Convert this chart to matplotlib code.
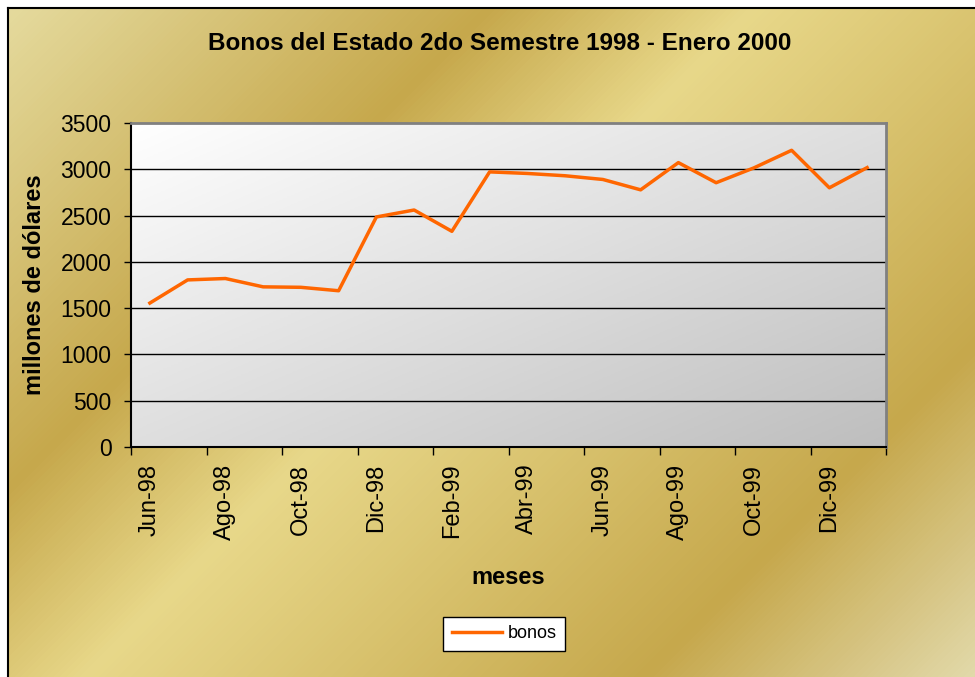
import numpy as np
import matplotlib
matplotlib.use("Agg")
import matplotlib.pyplot as plt
from matplotlib.colors import LinearSegmentedColormap
from matplotlib.lines import Line2D

plt.rcParams['font.family'] = ['Liberation Sans', 'DejaVu Sans']

# --- data ---
months = ["Jun-98", "Jul-98", "Ago-98", "Sep-98", "Oct-98", "Nov-98", "Dic-98",
          "Ene-99", "Feb-99", "Mar-99", "Abr-99", "May-99", "Jun-99", "Jul-99",
          "Ago-99", "Sep-99", "Oct-99", "Nov-99", "Dic-99", "Ene-00"]
bonos = [1555, 1805, 1820, 1730, 1725, 1688, 2485, 2560, 2330, 2972,
         2955, 2930, 2890, 2778, 3072, 2855, 3015, 3205, 2800, 3018]
y_ticks = [0, 500, 1000, 1500, 2000, 2500, 3000, 3500]

W, H = 975, 677
fig = plt.figure(figsize=(W / 100, H / 100), dpi=100, facecolor="white")

# gold background with diagonal bands
bg = fig.add_axes([8 / W, 0, 1 - 8 / W, 1 - 8 / H])
px, py = np.meshgrid(np.arange(8, W), np.arange(8, H))
u = (px + py) / 1652.0
gold = LinearSegmentedColormap.from_list("gold", [
    (0.0, "#E6DCA0"), (0.30, "#C6A84C"), (0.46, "#E8D88A"),
    (0.80, "#C6A84C"), (1.0, "#E2D9AA")])
bg.imshow(u, cmap=gold, vmin=0, vmax=1, aspect="auto", interpolation="bilinear")
bg.set_xticks([])
bg.set_yticks([])
for side in ["right", "bottom"]:
    bg.spines[side].set_visible(False)
for side in ["left", "top"]:
    bg.spines[side].set_color("black")
    bg.spines[side].set_linewidth(1.5)

# plot area
ax = fig.add_axes([131 / W, 1 - 447 / H, 755 / W, 324 / H])
x = np.arange(len(months))

gx, gy = np.meshgrid(np.linspace(0, 1, 200), np.linspace(0, 1, 200))
shade = (gx + gy) / 2
gray = LinearSegmentedColormap.from_list("plotgray", ["#FFFFFF", "#BEBEBE"])
ax.imshow(shade, cmap=gray, vmin=0, vmax=1, aspect="auto",
          extent=[-0.5, len(months) - 0.5, 0, 3500], origin="upper", zorder=0)
ax.set_xlim(-0.5, len(months) - 0.5)
ax.set_ylim(0, 3500)

for v in y_ticks[1:-1]:
    ax.axhline(v, color="black", lw=1, zorder=1)

ax.plot(x, bonos, color="#FF6600", lw=2.5, zorder=3, label="bonos")

ax.set_yticks(y_ticks)
ax.set_yticklabels([str(v) for v in y_ticks], fontsize=16.5)
ax.set_xticks(np.arange(-0.5, len(months), 2))
ax.set_xticklabels([])
ax.set_xticks(x[::2], minor=True)
ax.set_xticklabels(months[::2], minor=True, rotation=90, fontsize=17)
ax.tick_params(axis="x", which="minor", length=0, pad=12)
ax.tick_params(axis="x", which="major", length=6, width=1, direction="out")
ax.tick_params(axis="y", length=5, width=1, direction="out", pad=9)

ax.spines["left"].set_color("black")
ax.spines["bottom"].set_color("black")
ax.spines["left"].set_linewidth(1.5)
ax.spines["bottom"].set_linewidth(1.5)
ax.spines["top"].set_color("#808080")
ax.spines["right"].set_color("#808080")
ax.spines["top"].set_linewidth(2)
ax.spines["right"].set_linewidth(2)

fig.text(500 / W, 1 - 43 / H, "Bonos del Estado 2do Semestre 1998 - Enero 2000",
         ha="center", va="center", fontsize=17.5, fontweight="bold")
fig.text(35 / W, 1 - 285 / H, "millones de dólares", rotation=90,
         ha="center", va="center", fontsize=17, fontweight="bold")
fig.text(508 / W, 1 - 577 / H, "meses", ha="center", va="center",
         fontsize=17, fontweight="bold")

handle = Line2D([], [], color="#FF6600", lw=2.5)
leg = fig.legend([handle], ["bonos"], loc="center", bbox_to_anchor=(504 / W, 1 - 634 / H),
                 fontsize=13, frameon=True, fancybox=False, framealpha=1,
                 edgecolor="black", handlelength=2.8, borderpad=0.45,
                 handletextpad=0.3, borderaxespad=0)
leg.get_frame().set_linewidth(1)

fig.savefig("out.png", dpi=100, facecolor="white")
